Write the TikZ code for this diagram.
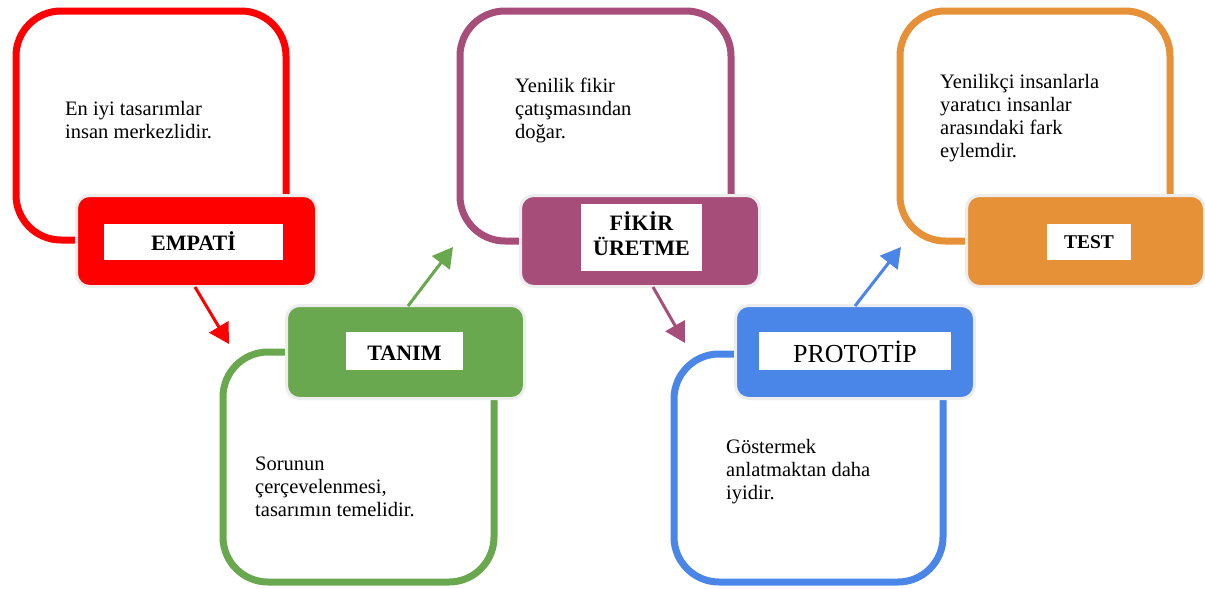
\documentclass[tikz,border=0pt]{standalone}
\usepackage{fontspec}
\setmainfont{Liberation Serif}
\usetikzlibrary{arrows.meta}

\definecolor{cRed}{HTML}{FF0000}
\definecolor{cGreen}{HTML}{6AA84F}
\definecolor{cBerry}{HTML}{A64D79}
\definecolor{cBlue}{HTML}{4A86E8}
\definecolor{cOrange}{HTML}{E69138}
\definecolor{cHalo}{HTML}{EDEDED}

\tikzset{
  frame/.style={draw=#1, line width=7pt, rounded corners=45pt, fill=white,
    inner sep=0pt, outer sep=0pt},
  head/.style={fill=#1, draw=cHalo, line width=3pt, rounded corners=13pt,
    inner sep=0pt, outer sep=0pt},
  tag/.style={fill=white, inner sep=0pt, outer sep=0pt},
  note/.style={anchor=base west, inner sep=0pt, font=\fontsize{20.5}{23}\selectfont},
  title/.style={anchor=base, inner sep=0pt, font=\fontsize{22}{23}\selectfont\bfseries},
  flow/.style={draw=#1, line width=3pt, -{Triangle[length=20pt,width=22pt,fill=#1]}},
}

\newcommand{\lines}[1]{\begin{tabular}[t]{@{}l@{}}#1\end{tabular}}

\begin{document}
\begin{tikzpicture}[x=1pt,y=-1pt]
\useasboundingbox (0,0) rectangle (1205,589);

% rounded outline frames
\node[frame=cRed,    minimum width=270pt, minimum height=229pt] (empFrame) at (151,125.5) {};
\node[frame=cGreen,  minimum width=271pt, minimum height=230pt] (tanFrame) at (358.5,467) {};
\node[frame=cBerry,  minimum width=271pt, minimum height=230pt] (fikFrame) at (595.5,126) {};
\node[frame=cBlue,   minimum width=269pt, minimum height=228pt] (proFrame) at (808.5,468) {};
\node[frame=cOrange, minimum width=270pt, minimum height=230pt] (tesFrame) at (1035,126) {};

% coloured heading boxes
\node[head=cRed,    minimum width=240pt, minimum height=91pt] (empHead) at (196.5,241) {};
\node[head=cGreen,  minimum width=238pt, minimum height=93pt] (tanHead) at (405.5,352) {};
\node[head=cBerry,  minimum width=239pt, minimum height=91pt] (fikHead) at (640,241) {};
\node[head=cBlue,   minimum width=239pt, minimum height=93pt] (proHead) at (855,352) {};
\node[head=cOrange, minimum width=238pt, minimum height=91pt] (tesHead) at (1085.5,241) {};

% white label panels
\node[tag, minimum width=179pt, minimum height=36pt] (empTag) at (193.5,242) {};
\node[tag, minimum width=117pt, minimum height=38pt] (tanTag) at (404.5,351) {};
\node[tag, minimum width=121pt, minimum height=67pt] (fikTag) at (641.5,237.5) {};
\node[tag, minimum width=192pt, minimum height=38pt] (proTag) at (855,351) {};
\node[tag, minimum width=84pt,  minimum height=36pt] (tesTag) at (1089,242) {};

% headings
\node[title] (empName) at (193.5,250) {EMPATİ};
\node[title] (tanName) at (404.5,360) {TANIM};
\node[title] (fikName) at (641.5,230) {\begin{tabular}[t]{@{}c@{}}FİKİR\\ÜRETME\end{tabular}};
\node[anchor=base, inner sep=0pt, font=\fontsize{26}{28}\selectfont] (proName) at (855,362) {PROTOTİP};
\node[title, font=\fontsize{19.5}{23}\selectfont\bfseries] (tesName) at (1089,248) {TEST};

% descriptions
\node[note] (empText) at (65,115) {\lines{En iyi tasarımlar\\insan merkezlidir.}};
\node[note] (tanText) at (255,470) {\lines{Sorunun\\çerçevelenmesi,\\tasarımın temelidir.}};
\node[note] (fikText) at (515,92) {\lines{Yenilik fikir\\çatışmasından\\doğar.}};
\node[note] (proText) at (726,453) {\lines{Göstermek\\anlatmaktan daha\\iyidir.}};
\node[note] (tesText) at (940,88) {\lines{Yenilikçi insanlarla\\yaratıcı insanlar\\arasındaki fark\\eylemdir.}};

% connectors between the stages
\coordinate (a1s) at (195,287);  \coordinate (a1e) at (229,344);
\coordinate (a2s) at (408,306);  \coordinate (a2e) at (453,247);
\coordinate (a3s) at (653,287);  \coordinate (a3e) at (685,343);
\coordinate (a4s) at (855,306);  \coordinate (a4e) at (901,247);
\draw[flow=cRed]   (a1s) -- (a1e);
\draw[flow=cGreen] (a2s) -- (a2e);
\draw[flow=cBerry] (a3s) -- (a3e);
\draw[flow=cBlue]  (a4s) -- (a4e);
\end{tikzpicture}
\end{document}
